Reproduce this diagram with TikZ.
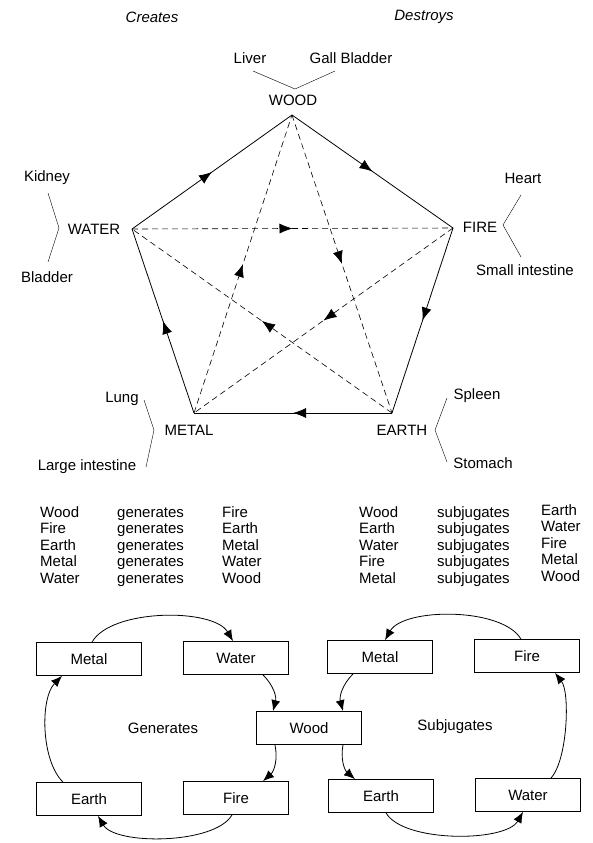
\documentclass[tikz,border=0pt]{standalone}
\usepackage{fontspec}
\setmainfont{Liberation Sans}
\usetikzlibrary{arrows.meta, decorations.markings}

\tikzset{
  midarrow/.style={postaction={decorate, decoration={markings,
      mark=at position 0.5 with {\arrow{Latex[length=13pt,width=10pt]}}}}},
  starline/.style={dash pattern=on 6pt off 4pt},
  elbox/.style={draw, thick, minimum width=105pt, minimum height=33pt, inner sep=0pt},
  lbl/.style={inner sep=0pt},
}

\begin{document}
\begin{tikzpicture}[x=1pt, y=1pt, >={Latex[length=11pt,width=9pt]}, font=\fontsize{15}{18}\selectfont]
  \useasboundingbox (0,0) rectangle (593,-843);

  \node[lbl, font=\fontsize{15}{18}\selectfont\itshape] (creates) at (152,-17) {Creates};
  \node[lbl, font=\fontsize{15}{18}\selectfont\itshape] (destroys) at (424,-17) {Destroys};

  % pentagon corners
  \coordinate (wood) at (292,-115);
  \coordinate (fire) at (453,-228);
  \coordinate (earth) at (392,-413);
  \coordinate (metal) at (194,-413);
  \coordinate (water) at (132,-229);

  \draw[thick, midarrow] (wood) -- (fire);
  \draw[thick, midarrow] (fire) -- (earth);
  \draw[thick, midarrow] (earth) -- (metal);
  \draw[thick, midarrow] (metal) -- (water);
  \draw[thick, midarrow] (water) -- (wood);

  % dashed star
  \draw[semithick, starline, midarrow] (wood) -- (earth);
  \draw[semithick, starline, midarrow] (earth) -- (water);
  \draw[semithick, starline, midarrow] (water) -- (fire);
  \draw[semithick, starline, midarrow] (fire) -- (metal);
  \draw[semithick, starline, midarrow] (metal) -- (wood);

  % element names and organs
  \node[lbl] (woodname) at (293,-100) {WOOD};
  \node[lbl] (liver) at (250,-58) {Liver};
  \node[lbl] (gall) at (351,-58) {Gall Bladder};
  \draw (253,-71) -- (295,-89) -- (335,-71);

  \node[lbl] (firename) at (480,-227) {FIRE};
  \node[lbl] (heart) at (523,-178) {Heart};
  \node[lbl] (smallint) at (525,-270) {Small intestine};
  \draw (521,-195) -- (503,-225) -- (521,-257);

  \node[lbl] (watername) at (94,-229) {WATER};
  \node[lbl] (kidney) at (47,-178) {Kidney};
  \node[lbl] (bladder) at (47,-277) {Bladder};
  \draw (48,-193) -- (59,-228) -- (48,-262);

  \node[lbl] (metalname) at (189,-430) {METAL};
  \node[lbl] (lung) at (122,-399) {Lung};
  \node[lbl] (largeint) at (87,-467) {Large intestine};
  \draw (144,-400) -- (154,-430) -- (146,-467);

  \node[lbl] (earthname) at (402,-430) {EARTH};
  \node[lbl] (spleen) at (477,-396) {Spleen};
  \node[lbl] (stomach) at (483,-463) {Stomach};
  \draw (447,-398) -- (435,-430) -- (447,-462);

  % tables
  \foreach \a/\b [count=\i from 0] in {Wood/Fire, Fire/Earth, Earth/Metal, Metal/Water, Water/Wood} {
    \node[lbl, anchor=base west] (gen\i a) at (40,-517-16.5*\i) {\a};
    \node[lbl, anchor=base west] (gen\i v) at (117,-517-16.5*\i) {generates};
    \node[lbl, anchor=base west] (gen\i b) at (222,-517-16.5*\i) {\b};
  }
  \foreach \a/\b [count=\i from 0] in {Wood/Earth, Earth/Water, Water/Fire, Fire/Metal, Metal/Wood} {
    \node[lbl, anchor=base west] (sub\i a) at (359,-517-16.5*\i) {\a};
    \node[lbl, anchor=base west] (sub\i v) at (437,-517-16.5*\i) {subjugates};
    \node[lbl, anchor=base west] (sub\i b) at (541,-515-16.5*\i) {\b};
  }

  % cycles
  \node[elbox] (gmetal) at (89,-659) {Metal};
  \node[elbox] (gwater) at (236,-658) {Water};
  \node[elbox] (gwood) at (309,-728) {Wood};
  \node[elbox] (gearth) at (89,-799) {Earth};
  \node[elbox] (gfire) at (236,-798) {Fire};
  \node[elbox] (smetal) at (380,-657) {Metal};
  \node[elbox] (sfire) at (527,-656) {Fire};
  \node[elbox] (searth) at (381,-796) {Earth};
  \node[elbox] (swater) at (528,-795) {Water};
  \node[lbl] (gentext) at (163,-728) {Generates};
  \node[lbl] (subtext) at (455,-727) {Subjugates};

  \draw[thick, ->] ([xshift=3pt]gmetal.north) to[bend left=60, looseness=0.7] ([xshift=-3pt]gwater.north);
  \draw[thick, ->] ([xshift=27pt]gwater.south) to[bend left=30] ([xshift=-36pt]gwood.north);
  \draw[thick, ->] ([xshift=-34pt]gwood.south) to[bend left=30] ([xshift=27pt]gfire.north);
  \draw[thick, ->] ([xshift=-4pt]gfire.south) to[bend left=60, looseness=0.65] ([xshift=9pt]gearth.south);
  \draw[thick, ->] ([xshift=-26pt]gearth.north) to[bend left=45, looseness=0.75] ([xshift=-27pt]gmetal.south);

  \draw[thick, ->] ([xshift=-6pt]sfire.north) to[bend right=60, looseness=0.7] ([xshift=5pt]smetal.north);
  \draw[thick, ->] ([xshift=-27pt]smetal.south) to[bend right=30] ([xshift=34pt]gwood.north);
  \draw[thick, ->] ([xshift=34pt]gwood.south) to[bend right=30] ([xshift=-26pt]searth.north);
  \draw[thick, ->] ([xshift=5pt]searth.south) to[bend right=60, looseness=0.65] ([xshift=-5pt]swater.south);
  \draw[thick, ->] ([xshift=23pt]swater.north) to[bend right=40, looseness=0.6] ([xshift=28pt]sfire.south);
\end{tikzpicture}
\end{document}
